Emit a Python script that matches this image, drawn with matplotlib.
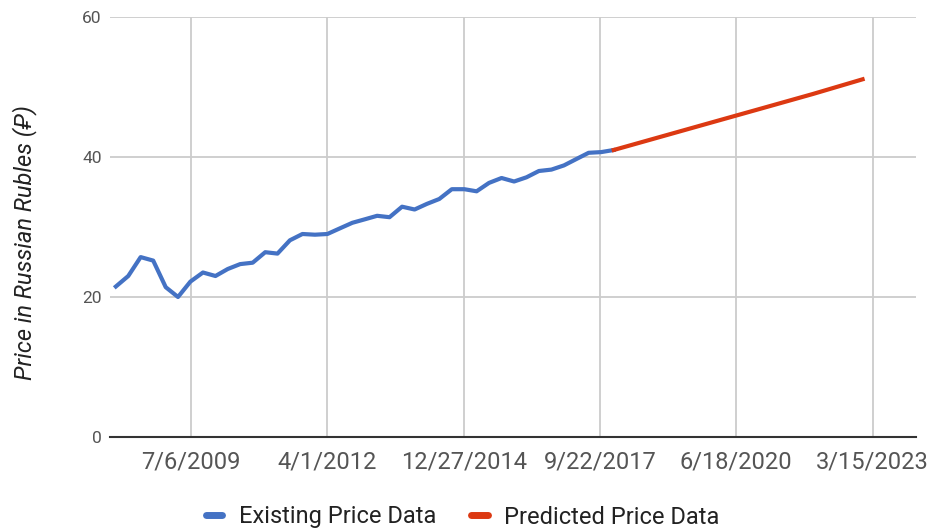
import numpy as np
import pandas as pd
import matplotlib.pyplot as plt
from matplotlib.lines import Line2D

plt.rcParams['font.family'] = ['Roboto', 'DejaVu Sans']

# quarterly prices, Jan 2008 - Jan 2018
existing_dates = pd.date_range('2008-01-01', '2018-01-01', freq='QS')
existing_prices = [21.5, 23.0, 25.7, 25.2, 21.4, 20.0, 22.2, 23.5, 23.0, 24.0,
                   24.7, 24.9, 26.4, 26.2, 28.1, 29.0, 28.9, 29.0, 29.8, 30.6,
                   31.1, 31.6, 31.4, 32.9, 32.5, 33.3, 34.0, 35.4, 35.4, 35.1,
                   36.3, 37.0, 36.5, 37.1, 38.0, 38.2, 38.8, 39.7, 40.6, 40.7,
                   41.0]

predicted_dates = pd.to_datetime(['2018-01-01', '2019-01-01', '2020-01-01',
                                  '2021-01-01', '2022-01-01', '2023-01-01'])
predicted_prices = [41.0, 43.0, 45.0, 47.0, 49.0, 51.1]

tick_dates = pd.to_datetime(['2009-07-06', '2012-04-01', '2014-12-27',
                             '2017-09-22', '2020-06-18', '2023-03-15'])
tick_labels = ['7/6/2009', '4/1/2012', '12/27/2014', '9/22/2017', '6/18/2020', '3/15/2023']

blue = '#4472c4'
red = '#dc3912'

fig = plt.figure(figsize=(9.31, 5.31), dpi=100)
ax = fig.add_axes([110 / 931, 1 - 437 / 531, 806 / 931, 420 / 531])

ax.plot(existing_dates, existing_prices, color=blue, lw=3, solid_joinstyle='round', zorder=3)
ax.plot(predicted_dates, predicted_prices, color=red, lw=3, zorder=3)

ax.set_xlim(pd.Timestamp('2007-11-19'), pd.Timestamp('2024-01-28'))
ax.set_ylim(0, 60)
ax.set_xticks(tick_dates)
ax.set_xticklabels(tick_labels)
ax.set_yticks([0, 20, 40, 60])

ax.grid(True, color='#cccccc', lw=1.3, zorder=0)
for s in ['top', 'right', 'left']:
    ax.spines[s].set_visible(False)
ax.spines['bottom'].set_color('#333333')
ax.spines['bottom'].set_linewidth(1.5)
ax.spines['bottom'].set_zorder(4)
ax.tick_params(length=0, labelcolor='#555555')
ax.tick_params(axis='x', pad=10, labelsize=17)
ax.tick_params(axis='y', pad=6, labelsize=12.5)

ax.set_ylabel('Price in Russian Rubles (\u20bd)', fontsize=17, style='italic',
              color='#222222')
ax.yaxis.set_label_coords(-0.090, 0.462)

handles = [Line2D([], [], color=blue, lw=5, solid_capstyle='round'),
           Line2D([], [], color=red, lw=5, solid_capstyle='round')]
fig.legend(handles, ['Existing Price Data', 'Predicted Price Data'],
           loc='center', bbox_to_anchor=(0.497, 1 - 517 / 531), ncol=2, frameon=False,
           fontsize=17, handlelength=0.7, handletextpad=0.7, columnspacing=1.5,
           labelcolor='#222222')

fig.savefig('out.png', dpi=100)
